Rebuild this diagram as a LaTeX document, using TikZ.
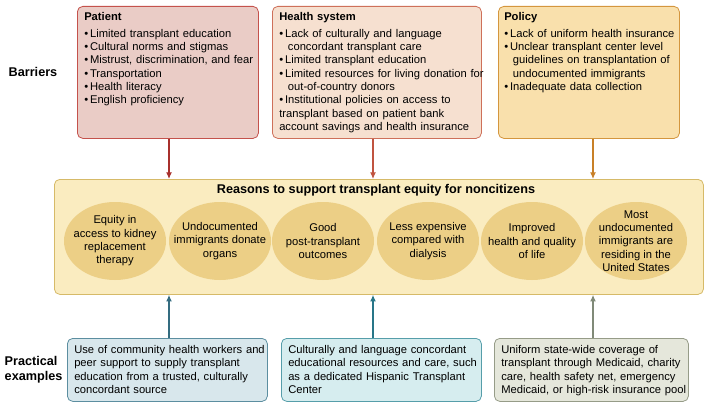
\documentclass[tikz,border=0pt]{standalone}
\usepackage{fontspec}
\setmainfont{Liberation Sans}
\usepackage{tikz}

\definecolor{patfill}{RGB}{234,204,198}
\definecolor{patline}{RGB}{196,82,76}
\definecolor{hsfill}{RGB}{246,224,208}
\definecolor{hsline}{RGB}{206,112,90}
\definecolor{polfill}{RGB}{249,224,172}
\definecolor{polline}{RGB}{212,150,62}
\definecolor{reafill}{RGB}{250,236,192}
\definecolor{realine}{RGB}{214,186,104}
\definecolor{cirfill}{RGB}{236,207,134}
\definecolor{comfill}{RGB}{216,231,236}
\definecolor{comline}{RGB}{92,142,160}
\definecolor{culfill}{RGB}{214,237,239}
\definecolor{culline}{RGB}{86,158,170}
\definecolor{unifill}{RGB}{229,231,219}
\definecolor{uniline}{RGB}{150,156,136}
\definecolor{arrpat}{RGB}{168,48,44}
\definecolor{arrhs}{RGB}{192,84,64}
\definecolor{arrpol}{RGB}{200,128,40}
\definecolor{arrcom}{RGB}{52,108,128}
\definecolor{arrcul}{RGB}{40,118,136}
\definecolor{arruni}{RGB}{128,138,120}

\newcommand{\bitem}[1]{\par\hangindent=6.5pt\hangafter=1\textbullet\,#1}
\usetikzlibrary{shapes.geometric,arrows.meta}

\begin{document}
\begin{tikzpicture}[x=0.75pt,y=0.75pt,yscale=-1,xscale=1,
  font=\fontsize{8.4}{10}\selectfont,
  panel/.style={draw, rounded corners=4pt, line width=0.6pt, anchor=north west, inner sep=0pt},
  listtext/.style={anchor=north west, align=left, inner sep=0pt,
    execute at begin node={\raggedright\hyphenpenalty=10000\exhyphenpenalty=10000}},
  blob/.style={align=center, inner sep=0pt},
  feed/.style={line width=0.9pt, -{Latex[length=5pt,width=4.5pt]}},
  rowlabel/.style={font=\fontsize{9.5}{11}\selectfont\bfseries, align=left}]
\useasboundingbox (0,0) rectangle (706,410);

% barrier boxes
\node (patient) [panel, fill=patfill, draw=patline, minimum width=181*0.75pt, minimum height=132*0.75pt] at (77,6) {};
\node (health) [panel, fill=hsfill, draw=hsline, minimum width=209*0.75pt, minimum height=132*0.75pt] at (272,6) {};
\node (policy) [panel, fill=polfill, draw=polline, minimum width=181*0.75pt, minimum height=132*0.75pt] at (498,6) {};

\node (patienttxt) [listtext, text width=178*0.75pt] at (84,12) {\textbf{Patient}\par\vspace{2.5pt}
\bitem{Limited transplant education}
\bitem{Cultural norms and stigmas}
\bitem{Mistrust, discrimination, and fear}
\bitem{Transportation}
\bitem{Health literacy}
\bitem{English proficiency}};
\node (healthtxt) [listtext, text width=205*0.75pt] at (279,12) {\textbf{Health system}\par\vspace{2.5pt}
\bitem{Lack of culturally and language concordant transplant care}
\bitem{Limited transplant education}
\bitem{Limited resources for living donation for out-of-country donors}
\bitem{Institutional policies on access to transplant based on patient bank account savings and health insurance}};
\node (policytxt) [listtext, text width=178*0.75pt] at (504,12) {\textbf{Policy}\par\vspace{2.5pt}
\bitem{Lack of uniform health insurance}
\bitem{Unclear transplant center level guidelines on transplantation of undocumented immigrants}
\bitem{Inadequate data collection}};

% reasons
\node (reasons) [panel, fill=reafill, draw=realine, minimum width=649*0.75pt, minimum height=115*0.75pt] at (54,179) {};
\node (reasonstitle) [font=\fontsize{9.5}{11}\selectfont\bfseries] at (376,190) {Reasons to support transplant equity for noncitizens};
\foreach \cx in {115,220,323,428,532,636}
  \fill [cirfill] (\cx,241) ellipse (51 and 39);
\node (r1) [blob] at (115,241) {Equity in\\access to kidney\\replacement\\therapy};
\node (r2) [blob] at (220,241) {Undocumented\\immigrants donate\\organs};
\node (r3) [blob] at (323,241) {Good\\post-transplant\\outcomes};
\node (r4) [blob] at (428,241) {Less expensive\\compared with\\dialysis};
\node (r5) [blob] at (532,241) {Improved\\health and quality\\of life};
\node (r6) [blob] at (636,241) {Most\\undocumented\\immigrants are\\residing in the\\United States};

% practical examples
\node (community) [panel, fill=comfill, draw=comline, minimum width=200*0.75pt, minimum height=63*0.75pt] at (67,338) {};
\node (cultural) [panel, fill=culfill, draw=culline, minimum width=200*0.75pt, minimum height=63*0.75pt] at (281,338) {};
\node (uniform) [panel, fill=unifill, draw=uniline, minimum width=194*0.75pt, minimum height=63*0.75pt] at (494,338) {};
\node [listtext, text width=200*0.75pt] at (74,345) {Use of community health workers and peer support to supply transplant education from a trusted, culturally concordant source};
\node [listtext, text width=200*0.75pt] at (288,345) {Culturally and language concordant educational resources and care, such as a dedicated Hispanic Transplant Center};
\node [listtext, text width=192*0.75pt] at (501,345) {Uniform state-wide coverage of transplant through Medicaid, charity care, health safety net, emergency Medicaid, or high-risk insurance pool};

\node (barriers) [rowlabel] at (33,72) {Barriers};
\node (practical) [rowlabel, anchor=west] at (0,370) {Practical\\examples};

% connectors
\draw [feed, arrpat] (patient.south -| 169,0) -- (reasons.north -| 169,0);
\draw [feed, arrhs] (health.south -| 373,0) -- (reasons.north -| 373,0);
\draw [feed, arrpol] (policy.south -| 593,0) -- (reasons.north -| 593,0);
\draw [feed, arrcom] (community.north -| 169,0) -- (reasons.south -| 169,0);
\draw [feed, arrcul] (cultural.north -| 373,0) -- (reasons.south -| 373,0);
\draw [feed, arruni] (uniform.north -| 593,0) -- (reasons.south -| 593,0);

\end{tikzpicture}
\end{document}
